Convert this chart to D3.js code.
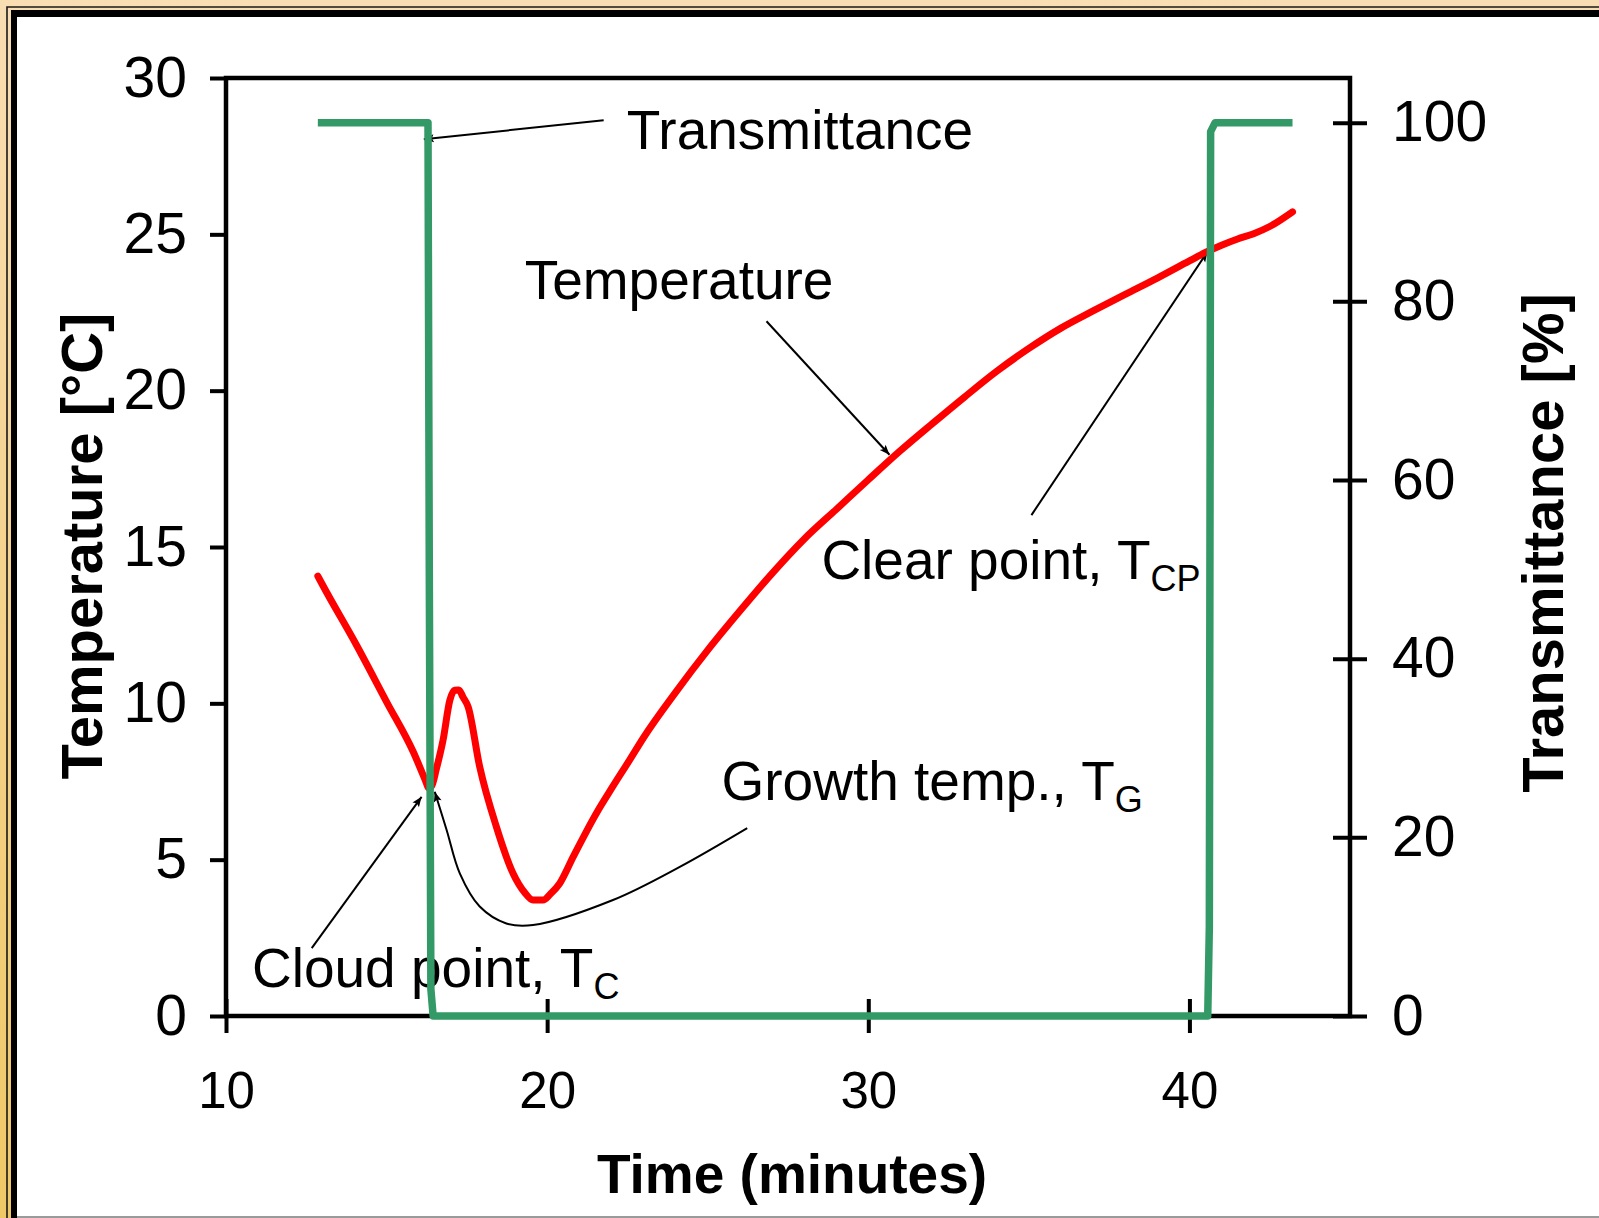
<html>

<head>
    <script src="https://d3js.org/d3.v7.min.js"></script>
    <style>
        body { margin: 0; background: #fff; }
        text { font-family: "Liberation Sans", Arial, sans-serif; }
    </style>
</head>

<body>
    <svg id="chart" width="1599" height="1218"></svg>
    <script>
        // red trace: time (minutes) and temperature (deg C)
        var tempTime = [12.86, 13.0, 14.07, 15.0, 15.83, 16.24, 16.30, 16.40, 16.55, 16.76, 16.97, 17.12, 17.25, 17.38, 17.54,
            17.9, 18.42, 18.94, 19.3, 19.56, 19.87, 20.1, 20.39, 20.81, 21.53, 22.05, 22.57, 23.0, 24.0,
            25.0, 26.0, 27.0, 28.0, 29.0, 30.0, 31.0, 32.0, 33.0, 34.0, 35.0, 36.0, 37.0, 38.0, 39.0,
            40.0, 40.5, 41.0, 41.5, 42.0, 42.5, 43.21];
        var tempValue = [14.07, 13.8, 11.85, 10.05, 8.45, 7.45, 7.30, 7.35, 7.9, 8.83, 10.1, 10.42, 10.43, 10.2, 9.89,
            7.97, 6.05, 4.56, 3.95, 3.71, 3.71, 3.9, 4.24, 5.09, 6.48, 7.35, 8.19, 8.9, 10.35,
            11.7, 12.95, 14.15, 15.25, 16.2, 17.15, 18.08, 18.95, 19.8, 20.62, 21.35, 22.0, 22.55, 23.08, 23.6,
            24.15, 24.42, 24.65, 24.85, 25.02, 25.25, 25.72];

        // green trace: transmittance (%)
        var transTime = [12.86, 16.29, 16.33, 16.38, 16.45, 40.57, 40.62, 40.66, 40.8, 43.21];
        var transValue = [100, 100, 50, 3, 0, 0, 10, 99, 100, 100];

        var xTicks = [10, 20, 30, 40];
        var leftTicks = [0, 5, 10, 15, 20, 25, 30];
        var rightTicks = [0, 20, 40, 60, 80, 100];

        // annotations (positions in time / deg C)
        var noteText = ["Transmittance", "Temperature", "Clear point, T", "Growth temp., T", "Cloud point, T"];
        var noteSub = ["", "", "CP", "G", "C"];
        var notePos = [[22.48, 27.73], [19.30, 22.93], [28.54, 13.97], [25.43, 6.91], [10.81, 0.93]];
        var noteArrow = [
            [[21.76, 28.65], [16.16, 28.04]],
            [[26.83, 22.22], [30.66, 17.95]],
            [[35.08, 16.02], [40.56, 24.44]],
            [[26.23, 6.01], [24.13, 4.77], [22.05, 3.71], [19.56, 2.91], [18.73, 2.96], [17.90, 3.50], [17.28, 4.56], [16.87, 5.95], [16.50, 7.17]],
            [[12.67, 2.17], [16.09, 7.01]]
        ];

        var svg = d3.select('#chart');
        var W = 1599, H = 1218;
        var plotL = 226, plotR = 1350, plotT = 78, plotB = 1016;

        // picture frame
        var defs = svg.append('defs');
        var grad = defs.append('linearGradient').attr('id', 'gold')
            .attr('x1', 0).attr('y1', 0).attr('x2', 0).attr('y2', 1);
        grad.append('stop').attr('offset', '0%').attr('stop-color', '#f9ddb3');
        grad.append('stop').attr('offset', '100%').attr('stop-color', '#efc866');
        svg.append('rect').attr('width', W).attr('height', H).attr('fill', 'url(#gold)');
        svg.append('path').attr('d', 'M7,' + H + 'V7H' + W)
            .attr('fill', 'none').attr('stroke', '#1a1a1a').attr('stroke-width', 1.6);
        svg.append('rect').attr('x', 11).attr('y', 10).attr('width', W - 11).attr('height', H - 10).attr('fill', '#000');
        svg.append('rect').attr('x', 17).attr('y', 17).attr('width', W - 17).attr('height', H - 18.5).attr('fill', '#fff');
        svg.append('line').attr('x1', 17).attr('x2', W).attr('y1', H - 1).attr('y2', H - 1)
            .attr('stroke', '#9a9a9a').attr('stroke-width', 2);

        var x = d3.scaleLinear().domain([10, 45]).range([plotL, plotR]);
        var y = d3.scaleLinear().domain([0, 30]).range([plotB, plotT]);
        var yR = d3.scaleLinear().domain([0, 105]).range([plotB, plotT]);

        defs.append('marker').attr('id', 'arrow')
            .attr('viewBox', '0 -5 10 10').attr('refX', 10).attr('refY', 0)
            .attr('markerUnits', 'userSpaceOnUse')
            .attr('markerWidth', 13).attr('markerHeight', 10)
            .attr('orient', 'auto')
            .append('path').attr('d', 'M0,-4L10,0L0,4L2,0Z').attr('fill', '#000');

        // axes
        var gx = svg.append('g').attr('transform', 'translate(0,' + plotB + ')')
            .call(d3.axisBottom(x).tickValues(xTicks).tickSize(17).tickSizeOuter(0).tickPadding(39));
        gx.selectAll('.tick line').attr('y1', -17).attr('y2', 17);
        gx.selectAll('text').attr('font-size', 51);

        var gl = svg.append('g').attr('transform', 'translate(' + plotL + ',0)')
            .call(d3.axisLeft(y).tickValues(leftTicks).tickSize(16).tickSizeOuter(0).tickPadding(23));
        gl.selectAll('text').attr('font-size', 57);

        var gr = svg.append('g').attr('transform', 'translate(' + plotR + ',0)')
            .call(d3.axisRight(yR).tickValues(rightTicks).tickSize(17).tickSizeOuter(0).tickPadding(25));
        gr.selectAll('.tick line').attr('x1', -17).attr('x2', 17);
        gr.selectAll('text').attr('font-size', 57);

        [gx, gl, gr].forEach(function(g) {
            g.select('.domain').remove();
            g.selectAll('.tick line').attr('stroke', '#000').attr('stroke-width', 4);
            g.selectAll('text').attr('fill', '#000').attr('font-family', '"Liberation Sans", Arial, sans-serif');
        });

        svg.append('rect').attr('x', plotL).attr('y', plotT)
            .attr('width', plotR - plotL).attr('height', plotB - plotT)
            .attr('fill', 'none').attr('stroke', '#000').attr('stroke-width', 4.5);

        // axis titles
        svg.append('text').attr('x', 792).attr('y', 1193).attr('text-anchor', 'middle')
            .attr('font-size', 55).attr('font-weight', 'bold').text('Time (minutes)');
        svg.append('text').attr('transform', 'translate(102,546) rotate(-90)').attr('text-anchor', 'middle')
            .attr('font-size', 58).attr('font-weight', 'bold').text('Temperature [°C]');
        svg.append('text').attr('transform', 'translate(1563,543) rotate(-90)').attr('text-anchor', 'middle')
            .attr('font-size', 58).attr('font-weight', 'bold').text('Transmittance [%]');

        // annotations
        noteText.forEach(function(t, i) {
            var txt = svg.append('text')
                .attr('x', x(notePos[i][0])).attr('y', y(notePos[i][1]))
                .attr('font-size', 55).text(t);
            if (noteSub[i]) {
                txt.append('tspan').attr('font-size', 36).attr('dy', 12).text(noteSub[i]);
            }
        });

        var noteLine = d3.line()
            .x(function(d) { return x(d[0]); })
            .y(function(d) { return y(d[1]); })
            .curve(d3.curveCatmullRom.alpha(0.5));
        svg.selectAll('path.note')
            .data(noteArrow)
            .enter()
            .append('path')
            .attr('class', 'note')
            .attr('d', noteLine)
            .attr('fill', 'none')
            .attr('stroke', '#000')
            .attr('stroke-width', 2)
            .attr('marker-end', 'url(#arrow)');

        // temperature trace
        var tempData = tempTime.map(function(t, i) { return [t, tempValue[i]]; });
        var tempLine = d3.line()
            .x(function(d) { return x(d[0]); })
            .y(function(d) { return y(d[1]); })
            .curve(d3.curveMonotoneX);
        svg.append('path')
            .attr('d', tempLine(tempData))
            .attr('fill', 'none')
            .attr('stroke', '#ff0000')
            .attr('stroke-width', 7)
            .attr('stroke-linejoin', 'round')
            .attr('stroke-linecap', 'round');

        // transmittance trace
        var transData = transTime.map(function(t, i) { return [t, transValue[i]]; });
        var transLine = d3.line()
            .x(function(d) { return x(d[0]); })
            .y(function(d) { return yR(d[1]); });
        svg.append('path')
            .attr('d', transLine(transData))
            .attr('fill', 'none')
            .attr('stroke', '#339966')
            .attr('stroke-width', 7.5)
            .attr('stroke-linejoin', 'round');
    </script>
</body>

</html>
